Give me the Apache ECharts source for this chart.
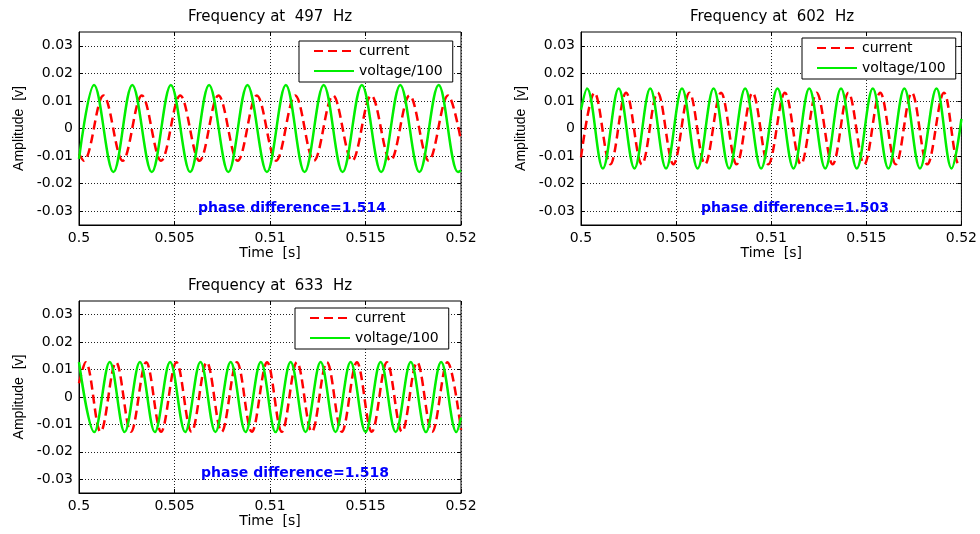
<!DOCTYPE html>
<html>
<head>
<meta charset="utf-8">
<script src="https://cdn.jsdelivr.net/npm/echarts@6/dist/echarts.min.js"></script>
<style>
  html, body { margin: 0; background: #fff; }
  #chart { width: 980px; height: 534px; }
</style>
</head>
<body>
<div id="chart"></div>
<script>
// tick labels
const xTicks = [0.5, 0.505, 0.51, 0.515, 0.52];
const yTicks = [-0.03, -0.02, -0.01, 0, 0.01, 0.02, 0.03];

const freqs = [497, 602, 633];
const phaseDiffs = ['1.514', '1.503', '1.518'];

// [time s, amplitude]: window edges, then each peak and trough
const current497 = [[0.5,-0.0092],[0.50025,-0.0117],[0.50128,0.012],[0.50229,-0.0117],[0.50329,0.012],[0.5043,-0.0117],[0.5053,0.012],[0.50631,-0.0117],[0.5073,0.012],[0.50831,-0.0117],[0.50931,0.012],[0.51032,-0.0117],[0.51132,0.012],[0.5123,-0.0117],[0.5133,0.012],[0.5143,-0.0117],[0.5153,0.012],[0.51631,-0.0117],[0.51731,0.012],[0.51831,-0.0117],[0.51932,0.012],[0.52,-0.0045]];
const voltage497 = [[0.5,-0.011],[0.50079,0.0158],[0.5018,-0.0158],[0.50279,0.0158],[0.50381,-0.0158],[0.50481,0.0158],[0.50582,-0.0158],[0.50681,0.0158],[0.50782,-0.0158],[0.50882,0.0158],[0.50984,-0.0158],[0.51083,0.0158],[0.51181,-0.0158],[0.51281,0.0158],[0.5138,-0.0158],[0.51481,0.0158],[0.51582,-0.0158],[0.51682,0.0158],[0.51782,-0.0158],[0.51883,0.0158],[0.51984,-0.0158],[0.52,-0.0152]];

const current602 = [[0.5,-0.0105],[0.50071,0.013],[0.50154,-0.013],[0.50237,0.013],[0.5032,-0.013],[0.50403,0.013],[0.50486,-0.013],[0.5057,0.013],[0.50652,-0.013],[0.50736,0.013],[0.50818,-0.013],[0.50902,0.013],[0.50985,-0.013],[0.51072,0.013],[0.51156,-0.013],[0.51239,0.013],[0.51323,-0.013],[0.51406,0.013],[0.51489,-0.013],[0.51573,0.013],[0.51655,-0.013],[0.51739,0.013],[0.51821,-0.013],[0.51908,0.013],[0.51987,-0.013],[0.52,-0.0125]];
const voltage602 = [[0.5,0.0068],[0.50032,0.0145],[0.50115,-0.0145],[0.50198,0.0145],[0.50281,-0.0145],[0.50364,0.0145],[0.50447,-0.0145],[0.50531,0.0145],[0.50613,-0.0145],[0.50697,0.0145],[0.50779,-0.0145],[0.50863,0.0145],[0.50947,-0.0145],[0.51033,0.0145],[0.51117,-0.0145],[0.512,0.0145],[0.51284,-0.0145],[0.51367,0.0145],[0.5145,-0.0145],[0.51534,0.0145],[0.51616,-0.0145],[0.517,0.0145],[0.51782,-0.0145],[0.51869,0.0145],[0.51948,-0.0145],[0.52,0.0035]];

const current633 = [[0.5,0.005],[0.50035,0.0127],[0.50113,-0.0127],[0.50194,0.0127],[0.50272,-0.0127],[0.50352,0.0127],[0.5043,-0.0127],[0.5051,0.0127],[0.50589,-0.0127],[0.50669,0.0127],[0.50747,-0.0127],[0.50827,0.0127],[0.50905,-0.0127],[0.50985,0.0127],[0.51062,-0.0127],[0.51141,0.0127],[0.51219,-0.0127],[0.51298,0.0127],[0.51376,-0.0127],[0.51455,0.0127],[0.51533,-0.0127],[0.51612,0.0127],[0.51691,-0.0127],[0.5177,0.0127],[0.51849,-0.0127],[0.51929,0.0127],[0.52,-0.012]];
const voltage633 = [[0.5,0.0127],[0.5008,-0.0128],[0.50161,0.0128],[0.50239,-0.0128],[0.50319,0.0128],[0.50397,-0.0128],[0.50477,0.0128],[0.50556,-0.0128],[0.50636,0.0128],[0.50714,-0.0128],[0.50794,0.0128],[0.50872,-0.0128],[0.50952,0.0128],[0.51029,-0.0128],[0.51108,0.0128],[0.51186,-0.0128],[0.51265,0.0128],[0.51343,-0.0128],[0.51422,0.0128],[0.515,-0.0128],[0.51579,0.0128],[0.51658,-0.0128],[0.51737,0.0128],[0.51816,-0.0128],[0.51896,0.0128],[0.51976,-0.0128],[0.52,-0.0075]];

const currents = [current497, current602, current633];
const voltages = [voltage497, voltage602, voltage633];

// layout
const grids = [
  { left: 79, top: 32, width: 382, height: 193 },
  { left: 581, top: 32, width: 382, height: 193 },
  { left: 79, top: 301, width: 382, height: 192 }
];
const legendPos = [{ left: 299, top: 41 }, { left: 802, top: 38 }, { left: 295, top: 308 }];
const phasePos = [[292, 208], [795, 208], [295, 473]];

const font = 'DejaVu Sans';
const ink = '#000';
const red = '#ff0000';
const green = '#00ee00';

const xAxes = [], yAxes = [], series = [], graphics = [];

grids.forEach((g, i) => {
  xAxes.push({
    gridIndex: i, type: 'value', min: 0.5, max: 0.52,
    name: 'Time  [s]', nameLocation: 'middle', nameGap: 21,
    nameTextStyle: { fontFamily: font, fontSize: 14, color: ink },
    axisLine: { show: true, onZero: false, lineStyle: { color: ink } },
    axisTick: { show: true, inside: true, length: 4, customValues: xTicks, lineStyle: { color: ink } },
    axisLabel: { customValues: xTicks, fontFamily: font, fontSize: 14, color: ink, margin: 6 },
    splitLine: { show: true, lineStyle: { color: '#222', type: [1, 2] } }
  });
  xAxes.push({
    gridIndex: i, type: 'value', min: 0.5, max: 0.52, position: 'top',
    axisLine: { show: false, onZero: false },
    axisTick: { show: true, inside: true, length: 4, customValues: xTicks, lineStyle: { color: ink } },
    axisLabel: { show: false }, splitLine: { show: false }
  });
  yAxes.push({
    gridIndex: i, type: 'value', min: -0.035, max: 0.035,
    name: 'Amplitude  [v]', nameLocation: 'middle', nameGap: 53,
    nameTextStyle: { fontFamily: 'Liberation Sans', fontSize: 14, color: ink },
    axisLine: { show: true, onZero: false, lineStyle: { color: ink } },
    axisTick: { show: true, inside: true, length: 4, customValues: yTicks, lineStyle: { color: ink } },
    axisLabel: { customValues: yTicks, fontFamily: font, fontSize: 14, color: ink, margin: 6 },
    splitLine: { show: true, lineStyle: { color: '#222', type: [1, 2] } }
  });
  yAxes.push({
    gridIndex: i, type: 'value', min: -0.035, max: 0.035, position: 'right',
    axisLine: { show: false, onZero: false },
    axisTick: { show: true, inside: true, length: 4, customValues: yTicks, lineStyle: { color: ink } },
    axisLabel: { show: false }, splitLine: { show: false }
  });

  // peaks and troughs only; a spline through them with this tension follows the sine shape
  series.push({
    name: 'current', type: 'line', xAxisIndex: i * 2, yAxisIndex: i * 2,
    data: currents[i], symbol: 'none', smooth: 0.36,
    lineStyle: { color: red, width: 2.5, type: [9, 5] }, itemStyle: { color: red }
  });
  series.push({
    name: 'voltage/100', type: 'line', xAxisIndex: i * 2, yAxisIndex: i * 2,
    data: voltages[i], symbol: 'none', smooth: 0.36,
    lineStyle: { color: green, width: 2.5 }, itemStyle: { color: green }
  });

  graphics.push({
    type: 'text', x: g.left + g.width / 2, y: g.top - 15,
    style: { text: 'Frequency at  ' + freqs[i] + '  Hz', fontFamily: font, fontSize: 15,
      fill: ink, align: 'center', verticalAlign: 'middle' }
  });
  graphics.push({
    type: 'text', x: phasePos[i][0], y: phasePos[i][1],
    style: { text: 'phase difference=' + phaseDiffs[i], fontFamily: font, fontSize: 14, fontWeight: 'bold',
      fill: '#0000ff', align: 'center', verticalAlign: 'middle' }
  });
});

const chart = echarts.init(document.getElementById('chart'), null, { renderer: 'canvas' });
chart.setOption({
  animation: false,
  backgroundColor: '#fff',
  grid: grids.map(g => Object.assign({ show: true, borderColor: ink, borderWidth: 1, backgroundColor: '#fff' }, g)),
  xAxis: xAxes,
  yAxis: yAxes,
  legend: legendPos.map(p => ({
    left: p.left, top: p.top, orient: 'vertical',
    data: ['current', 'voltage/100'],
    itemWidth: 40, itemHeight: 14, itemGap: 6,
    padding: [3, 10, 4, 14],
    backgroundColor: '#fff', borderColor: ink, borderWidth: 1, borderRadius: 0,
    selectedMode: false,
    itemStyle: { opacity: 0, borderWidth: 0 },
    textStyle: { fontFamily: font, fontSize: 14, color: ink }
  })),
  series: series,
  graphic: graphics
});
</script>
</body>
</html>
